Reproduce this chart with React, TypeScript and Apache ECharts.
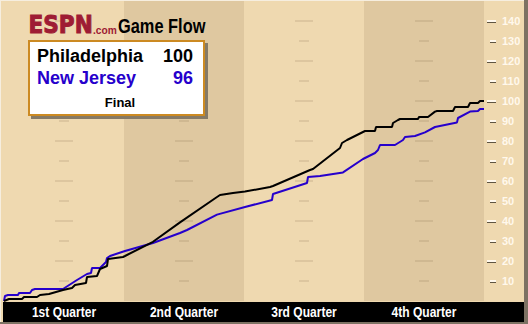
import React, { useEffect, useRef } from "react";
import * as echarts from "echarts";

// Quarter labels and y tick values
const quarters = ["1st Quarter", "2nd Quarter", "3rd Quarter", "4th Quarter"];
const quarterCenters = [6, 18, 30, 42];
const gridValues = [10, 20, 30, 40, 50, 60, 70, 80, 90, 100, 110, 120, 130, 140];

// Philadelphia (minutes elapsed, score)
const phiT = [0, 0.5, 1.8, 2.0, 3.3, 3.6, 4.5, 5.9, 6.8, 7.1, 8.2, 8.3, 9.3, 9.6, 10.3, 10.4, 11.9, 12.1, 14.9, 17.6, 21.3, 21.6, 22.9, 24.1, 26.6, 26.9, 30.6, 30.9, 33.6, 33.8, 34.3, 36.1, 37.1, 37.2, 38.8, 38.9, 39.4, 39.6, 41.4, 41.5, 42.4, 43.1, 43.3, 44.9, 45.1, 46.4, 46.6, 47.4, 47.6, 48];
const phiV = [0, 1, 1, 2, 2, 3, 3.5, 5.5, 6.5, 8, 9, 12, 12.5, 16, 17.5, 21, 22, 22.5, 29.6, 39.3, 52, 53, 54, 54.7, 57, 57.5, 65.5, 66, 76.5, 79, 80.5, 85, 85, 87, 87, 89, 90.5, 91, 91, 92, 92, 94.7, 95, 95, 97, 97, 99, 99, 100, 100];

// New Jersey
const njT = [0, 0.1, 0.4, 1.4, 1.5, 2.6, 2.8, 3.1, 5.9, 7.3, 8.3, 8.7, 8.8, 9.6, 10.2, 10.3, 10.6, 12.1, 14.9, 17.6, 18.3, 21.3, 24.1, 26.8, 26.9, 30.3, 30.4, 31.6, 33.9, 35.9, 37.1, 37.4, 37.6, 39.1, 39.9, 40.1, 41.1, 42.1, 43.1, 45.3, 45.4, 46.6, 47.4, 47.6, 48];
const njV = [0, 2.5, 3, 3, 4, 4, 5.5, 6, 6, 10.5, 13.5, 14, 16.5, 16.5, 19.5, 21.5, 22.5, 25, 29, 34, 35.5, 43.2, 47, 50.5, 53.5, 59, 62, 62.5, 64.3, 71, 74, 75.5, 78, 78, 80.5, 82, 82.5, 84.3, 87, 89.3, 91.5, 94.7, 95, 96, 96];

const teams = ["Philadelphia", "New Jersey"];
const finalScores = [100, 96];

export default function App() {
  const ref = useRef<HTMLDivElement>(null);
  useEffect(() => {
    document.body.style.margin = "0";
    if (!ref.current) return;
    const chart = echarts.init(ref.current, null, { renderer: "svg" });
    const phiData = phiT.map((t, i) => [t, phiV[i]]);
    const njData = njT.map((t, i) => [t, njV[i]]);
    const dashData: any[] = [];
    gridValues.forEach((v) => {
      quarterCenters.forEach((c) => {
        dashData.push({ value: [c, v], symbolSize: v % 20 === 0 ? [18, 2] : [10, 2] });
      });
    });
    const numStyle = {
      color: "#FFF8EC",
      fontFamily: "Liberation Sans, Arial, sans-serif",
      fontWeight: "bold",
      fontSize: 11,
      textShadowColor: "#5e5443",
      textShadowOffsetX: 1,
      textShadowOffsetY: 1,
      textShadowBlur: 0,
    };
    const dashBox = {
      height: 2,
      backgroundColor: "#FFF8EC",
      shadowColor: "#5e5443",
      shadowOffsetX: 0,
      shadowOffsetY: 1,
      shadowBlur: 0,
    };
    const baseGraphic: any[] = [
      { type: "rect", z: -10, shape: { x: 484, y: 0, width: 40, height: 302 }, style: { fill: "#EFD9B0" } },
      { type: "rect", z: -5, shape: { x: 3, y: 302, width: 521, height: 20 }, style: { fill: "#000000" } },
      { type: "rect", z: -5, shape: { x: 0, y: 322, width: 528, height: 2 }, style: { fill: "#7d7263" } },
      { type: "rect", z: -5, shape: { x: 524, y: 0, width: 4, height: 324 }, style: { fill: "#7d7263" } },
      { type: "rect", z: 5, shape: { x: 0, y: 0, width: 524, height: 1 }, style: { fill: "#F6EEDF" } },
      { type: "rect", z: 5, shape: { x: 0, y: 0, width: 1, height: 322 }, style: { fill: "#F6EEDF" } },
      // logo
      {
        type: "text",
        z: 20,
        x: 28.5,
        y: 24.5,
        scaleX: 0.9,
        style: {
          text: "ESPN",
          fill: "#9E1C34",
          stroke: "#9E1C34",
          lineWidth: 1,
          font: "900 24px DejaVu Sans, sans-serif",
          verticalAlign: "middle",
        },
      },
      {
        type: "text",
        z: 20,
        x: 93,
        y: 30,
        scaleX: 0.93,
        style: {
          text: ".com",
          fill: "#9E1C34",
          font: "bold 11px Liberation Sans, sans-serif",
          verticalAlign: "middle",
        },
      },
      {
        type: "text",
        z: 20,
        x: 118,
        y: 26,
        scaleX: 0.82,
        style: {
          text: "Game Flow",
          fill: "#000000",
          font: "bold 20px Liberation Sans, sans-serif",
          verticalAlign: "middle",
        },
      },
      // score box
      { type: "rect", z: 20, shape: { x: 31, y: 43, width: 177, height: 76 }, style: { fill: "#857a66" } },
      {
        type: "rect",
        z: 21,
        shape: { x: 29, y: 41, width: 175, height: 74 },
        style: { fill: "#FFFFFF", stroke: "#CC8A22", lineWidth: 2 },
      },
      {
        type: "text", z: 22, x: 37, y: 56,
        style: { text: teams[0], fill: "#000000", font: "bold 18px Liberation Sans, sans-serif", verticalAlign: "middle" },
      },
      {
        type: "text", z: 22, x: 193, y: 56,
        style: { text: String(finalScores[0]), fill: "#000000", font: "bold 18px Liberation Sans, sans-serif", verticalAlign: "middle", align: "right" },
      },
      {
        type: "text", z: 22, x: 37, y: 77.5,
        style: { text: teams[1], fill: "#2600CC", font: "bold 18px Liberation Sans, sans-serif", verticalAlign: "middle" },
      },
      {
        type: "text", z: 22, x: 193, y: 77.5,
        style: { text: String(finalScores[1]), fill: "#2600CC", font: "bold 18px Liberation Sans, sans-serif", verticalAlign: "middle", align: "right" },
      },
      {
        type: "text", z: 22, x: 120, y: 102,
        style: { text: "Final", fill: "#000000", font: "bold 13px Liberation Sans, sans-serif", verticalAlign: "middle", align: "center" },
      },
    ];
    chart.setOption({
      animation: false,
      backgroundColor: "#EFD9B0",
      grid: { left: 4, right: 44, top: 1, bottom: 23 },
      xAxis: [
        {
          type: "value",
          min: 0,
          max: 48,
          interval: 12,
          axisLine: { show: false },
          axisTick: { show: false },
          axisLabel: { show: false },
          splitLine: { show: false },
          splitArea: { show: true, areaStyle: { color: ["#EFD9B0", "#DFC8A0"] } },
        },
      ],
      yAxis: {
        type: "value",
        position: "right",
        min: 0,
        max: 150,
        interval: 10,
        axisLine: { show: false },
        axisTick: { show: false },
        splitLine: { show: false },
        axisLabel: {
          margin: 3,
          align: "left",
          formatter: (v: number) => {
            if (v <= 0 || v >= 150) return "";
            return v % 20 === 0 ? `{w|}{g|}{n|${v}}` : `{s|}{k|}{g|}{n|${v}}`;
          },
          rich: {
            w: { ...dashBox, width: 9 },
            k: { ...dashBox, width: 6 },
            s: { width: 3 },
            g: { width: 6 },
            n: numStyle,
          },
        },
      },
      graphic: baseGraphic,
      series: [
        {
          type: "scatter",
          silent: true,
          z: 1,
          symbol: "rect",
          data: dashData,
          itemStyle: { color: "rgba(120,90,60,0.18)" },
        },
        {
          name: teams[1],
          type: "line",
          data: njData,
          showSymbol: false,
          z: 3,
          lineStyle: { color: "#2600CC", width: 2 },
        },
        {
          name: teams[0],
          type: "line",
          data: phiData,
          showSymbol: false,
          z: 4,
          lineStyle: { color: "#000000", width: 2 },
        },
      ],
    });
    // quarter labels placed at band centres through the x axis scale
    const quarterLabels = quarters.map((q, i) => {
      const px = chart.convertToPixel({ xAxisIndex: 0 }, quarterCenters[i]) as number;
      return {
        type: "text",
        z: 30,
        x: px,
        y: 312.5,
        scaleX: 0.86,
        style: {
          text: q,
          fill: "#FFFFFF",
          font: "bold 14px Liberation Sans, sans-serif",
          align: "center",
          verticalAlign: "middle",
        },
      };
    });
    chart.setOption({ graphic: [...baseGraphic, ...quarterLabels] });
    return () => chart.dispose();
  }, []);
  return <div ref={ref} style={{ width: 528, height: 324 }} />;
}
